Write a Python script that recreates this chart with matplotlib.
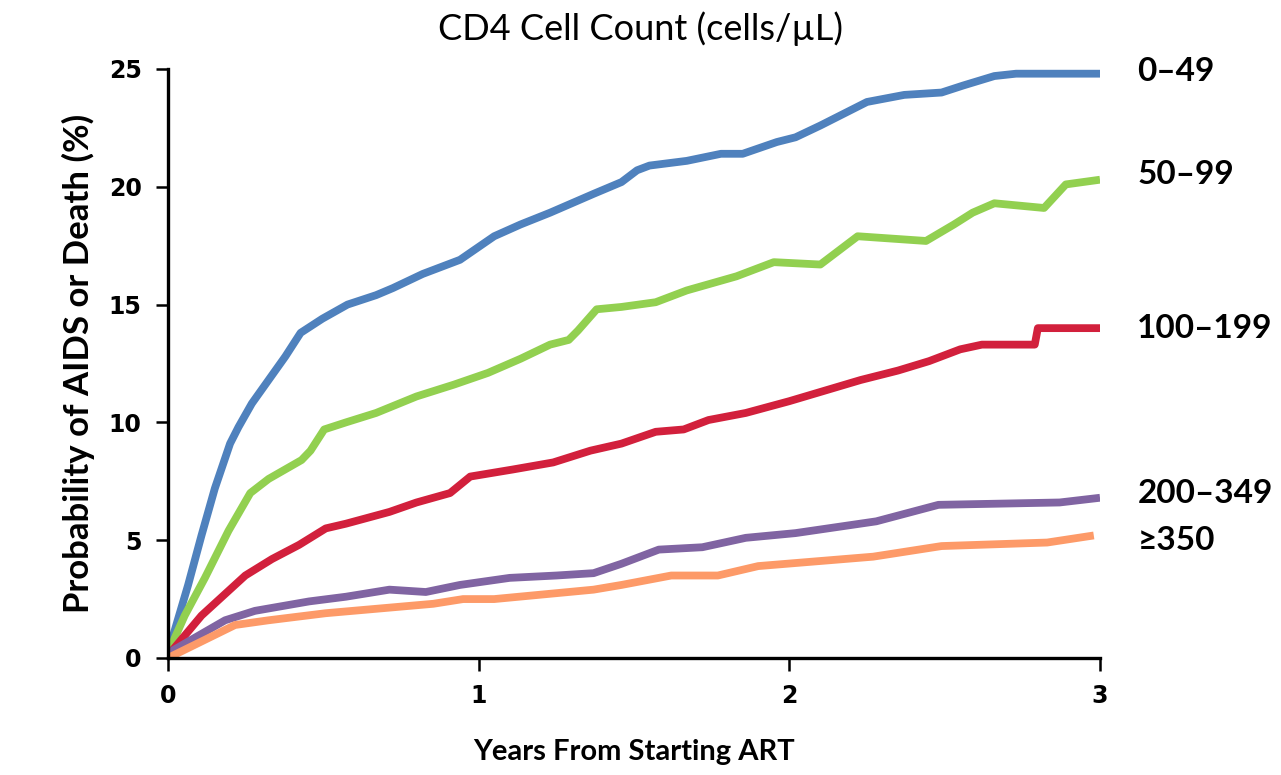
import numpy as np
import matplotlib.pyplot as plt

# Kaplan-Meier style curves, x in years, y in %
x_049 = [0, 0.065, 0.108, 0.151, 0.2, 0.227, 0.27, 0.324, 0.378, 0.427, 0.497, 0.578, 0.67, 0.724, 0.82, 0.94,
         1.05, 1.135, 1.23, 1.37, 1.46, 1.51, 1.55, 1.67, 1.78, 1.85, 1.96, 2.02, 2.10, 2.19, 2.25, 2.37, 2.49,
         2.56, 2.66, 2.73, 2.85, 3.0]
y_049 = [0.2, 3.1, 5.2, 7.2, 9.1, 9.8, 10.8, 11.8, 12.8, 13.8, 14.4, 15.0, 15.4, 15.7, 16.3, 16.9,
         17.9, 18.4, 18.9, 19.7, 20.2, 20.7, 20.9, 21.1, 21.4, 21.4, 21.9, 22.1, 22.6, 23.2, 23.6, 23.9, 24.0,
         24.3, 24.7, 24.8, 24.8, 24.8]

x_5099 = [0, 0.054, 0.119, 0.195, 0.265, 0.324, 0.43, 0.459, 0.503, 0.573, 0.67, 0.8, 0.92, 1.03, 1.135,
          1.23, 1.29, 1.32, 1.38, 1.46, 1.57, 1.67, 1.83, 1.95, 2.10, 2.22, 2.44, 2.53, 2.59, 2.66, 2.82,
          2.89, 3.0]
y_5099 = [0.2, 1.8, 3.4, 5.4, 7.0, 7.6, 8.4, 8.8, 9.7, 10.0, 10.4, 11.1, 11.6, 12.1, 12.7,
          13.3, 13.5, 13.9, 14.8, 14.9, 15.1, 15.6, 16.2, 16.8, 16.7, 17.9, 17.7, 18.4, 18.9, 19.3, 19.1,
          20.1, 20.3]

x_100199 = [0, 0.108, 0.249, 0.335, 0.422, 0.508, 0.573, 0.713, 0.8, 0.908, 0.973, 1.11, 1.24, 1.36, 1.46,
            1.57, 1.66, 1.74, 1.86, 2.0, 2.23, 2.35, 2.45, 2.55, 2.62, 2.79, 2.80, 3.0]
y_100199 = [0.1, 1.8, 3.5, 4.2, 4.8, 5.5, 5.7, 6.2, 6.6, 7.0, 7.7, 8.0, 8.3, 8.8, 9.1,
            9.6, 9.7, 10.1, 10.4, 10.9, 11.8, 12.2, 12.6, 13.1, 13.3, 13.3, 14.0, 14.0]

x_200349 = [0, 0.184, 0.28, 0.454, 0.573, 0.713, 0.83, 0.94, 1.10, 1.25, 1.37, 1.46, 1.58, 1.72, 1.86,
            2.02, 2.28, 2.48, 2.87, 3.0]
y_200349 = [0.2, 1.6, 2.0, 2.4, 2.6, 2.9, 2.8, 3.1, 3.4, 3.5, 3.6, 4.0, 4.6, 4.7, 5.1,
            5.3, 5.8, 6.5, 6.6, 6.8]

x_350 = [0, 0.216, 0.324, 0.508, 0.854, 0.95, 1.05, 1.37, 1.46, 1.62, 1.77, 1.90, 2.27, 2.49, 2.83, 2.98]
y_350 = [0.0, 1.4, 1.6, 1.9, 2.3, 2.5, 2.5, 2.9, 3.1, 3.5, 3.5, 3.9, 4.3, 4.75, 4.9, 5.2]

x_ticks = [0, 1, 2, 3]
y_ticks = [0, 5, 10, 15, 20, 25]

series = [(x_049, y_049, '#4F81BD', '0\u201349'),
          (x_5099, y_5099, '#92D050', '50\u201399'),
          (x_100199, y_100199, '#D2203C', '100\u2013199'),
          (x_200349, y_200349, '#8064A2', '200\u2013349'),
          (x_350, y_350, '#FD9A68', '\u2265350')]
label_y = [24.9, 20.5, 14.0, 7.0, 5.0]

fig = plt.figure(figsize=(12.81, 7.75), dpi=100)
ax = fig.add_axes([0.1311, 0.151, 0.7276, 0.760])

for (xs, ys, c, lab), ly in zip(series, label_y):
    ax.plot(xs, ys, color=c, linewidth=5.6, solid_capstyle='butt', solid_joinstyle='round')
    ax.text(3.12, ly, lab, fontsize=24, fontweight='bold', family='Lato', va='center', ha='left',
            clip_on=False)

ax.set_xlim(0, 3)
ax.set_ylim(0, 25)
tick_font = dict(fontsize=17, fontweight='bold', family='DejaVu Sans')
ax.set_xticks(x_ticks, [str(v) for v in x_ticks], **tick_font)
ax.set_yticks(y_ticks, [str(v) for v in y_ticks], **tick_font)
ax.spines['top'].set_visible(False)
ax.spines['right'].set_visible(False)
ax.spines['left'].set_linewidth(2.4)
ax.spines['bottom'].set_linewidth(2.4)
ax.tick_params(length=9, width=1.8, direction='out', pad=10)

ax.set_xlabel('Years From Starting ART', fontsize=21, fontweight='bold', family='Lato', labelpad=22)
ax.set_ylabel('Probability of AIDS or Death (%)', fontsize=25, fontweight='bold', family='Lato', labelpad=10)
fig.text(0.5, 0.963, 'CD4 Cell Count (cells/\u00b5L)', fontsize=26, family='Lato', ha='center', va='center')

plt.savefig('out.png', dpi=100)
